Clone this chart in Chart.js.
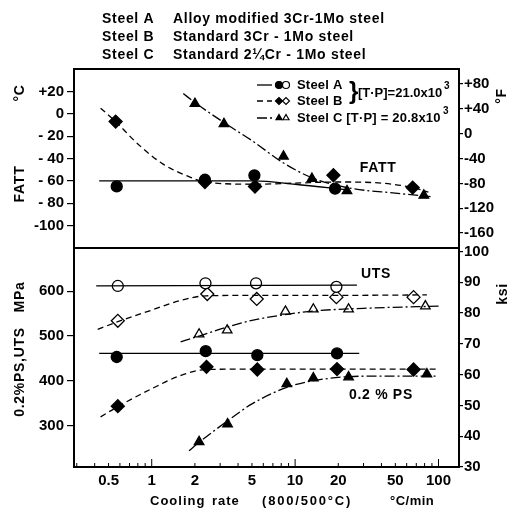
<!DOCTYPE html>
<html><head><meta charset="utf-8">
<script src="https://cdn.jsdelivr.net/npm/chart.js@4.4.0/dist/chart.umd.min.js"></script>
<style>html,body{margin:0;padding:0;background:#fff;}#wrap{width:524px;height:511px;position:relative}</style>
</head><body><div id="wrap"><canvas id="c" width="524" height="511"></canvas></div>
<script>
const FONTFAM = '"Liberation Sans", Arial, sans-serif';

// ---- axes ----
const xTickValues = [0.5, 1, 2, 5, 10, 20, 50, 100];
const xMinorTicks = [0.3,0.4,0.5,0.6,0.7,0.8,0.9,1,2,3,4,5,6,7,8,9,10,20,30,40,50,60,70,80,90,100];
const xMajorTicks = [1, 10, 100];
const cTickValues = [20, 0, -20, -40, -60, -80, -100];
const cTickLabels = ['+20', '0', '- 20', '- 40', '- 60', '- 80', '-100'];
const fTickValues = [80, 40, 0, -40, -80, -120, -160];
const fTickLabels = ['+80', '+40', '0', '-40', '-80', '-120', '-160'];
const mpaTickValues = [600, 500, 400, 300];
const ksiTickValues = [100, 90, 80, 70, 60, 50, 40, 30];

// ---- FATT (°C) markers ----
const fattA_x = [0.57, 2.35, 5.2, 19];
const fattA_y = [-65, -59, -55, -67];
const fattB_x = [0.56, 2.35, 5.25, 18.5, 66];
const fattB_y = [-7, -61, -65, -55, -66];
const fattC_x = [2.0, 3.19, 8.3, 13.1, 23, 79];
const fattC_y = [9, -9, -38, -58, -69, -73];
// ---- FATT fitted curves ----
const fattA_cx = [0.43, 2.35, 5.2, 10, 23];
const fattA_cy = [-60, -60, -60, -63, -68];
const fattB_cx = [0.44, 0.56, 0.8, 1.2, 1.8, 2.35, 5.2, 10, 20, 40, 66, 85];
const fattB_cy = [5, -7, -27, -45, -56, -61, -63, -62, -61, -62, -66, -70];
const fattC_cx = [1.66, 2.0, 3.2, 5, 8.3, 13, 23, 50, 88];
const fattC_cy = [18, 10, -8, -24, -44, -57, -66, -71, -74];

// ---- UTS (MPa) markers ----
const utsA_x = [0.58, 2.37, 5.34, 19.4];
const utsA_y = [612, 618, 618, 610];
const utsB_x = [0.58, 2.44, 5.4, 19.4, 67];
const utsB_y = [534, 594, 583, 587, 587];
const utsC_x = [2.14, 3.36, 8.56, 13.4, 23.6, 81];
const utsC_y = [504, 513, 555, 560, 560, 567];
// ---- UTS curves ----
const utsA_cx = [0.41, 27];
const utsA_cy = [612, 614];
const utsB_cx = [0.42, 0.58, 1, 1.6, 2.4, 5, 20, 83];
const utsB_cy = [515, 532, 558, 580, 590, 591, 591, 592];
const utsC_cx = [1.59, 2.14, 3.36, 5, 8.56, 13.4, 30, 103];
const utsC_cy = [487, 500, 520, 535, 548, 556, 562, 567];

// ---- 0.2% PS (MPa) markers ----
const psA_x = [0.57, 2.38, 5.45, 19.6];
const psA_y = [453, 466, 457, 461];
const psB_x = [0.58, 2.41, 5.45, 19.6, 67];
const psB_y = [343, 431, 425, 426, 425];
const psC_x = [2.14, 3.38, 8.75, 13.4, 23.6, 83];
const psC_y = [263, 303, 393, 406, 408, 415];
// ---- PS curves ----
const psA_cx = [0.43, 28];
const psA_cy = [461, 461];
const psB_cx = [0.44, 0.58, 1, 1.6, 2.4, 5, 20, 98];
const psB_cy = [319, 342, 382, 412, 425, 426, 426, 426];
const psC_cx = [1.82, 2.14, 3.38, 5, 8.75, 13.4, 30, 98];
const psC_cy = [243, 262, 310, 348, 385, 400, 410, 410];

const pts = (xs, ys) => xs.map((x, i) => ({x: x, y: ys[i]}));
const cToF = c => c * 9 / 5 + 32;
const MPA_PER_KSI = 6.894757;

const C_MIN = -120, C_MAX = 40;
const MPA_MIN = 206.8, MPA_MAX = 697;

const DASH_A = [], DASH_B = [6, 4], DASH_C = [10, 3, 2, 3];

function curve(xs, ys, axis, dash) {
  return {type: 'line', data: pts(xs, ys), yAxisID: axis, borderColor: '#000', borderWidth: 1.3,
    borderDash: dash, pointRadius: 0, fill: false, cubicInterpolationMode: 'monotone', showLine: true};
}
function marks(xs, ys, axis, style, filled, r) {
  return {type: 'scatter', data: pts(xs, ys), yAxisID: axis, pointStyle: style, pointRadius: r,
    pointBackgroundColor: filled ? '#000' : '#fff', pointBorderColor: '#000', pointBorderWidth: 1.3, showLine: false};
}

const datasets = [
  curve(fattA_cx, fattA_cy, 'yT', DASH_A), curve(fattB_cx, fattB_cy, 'yT', DASH_B), curve(fattC_cx, fattC_cy, 'yT', DASH_C),
  curve(utsA_cx, utsA_cy, 'yB', DASH_A), curve(utsB_cx, utsB_cy, 'yB', DASH_B), curve(utsC_cx, utsC_cy, 'yB', DASH_C),
  curve(psA_cx, psA_cy, 'yB', DASH_A), curve(psB_cx, psB_cy, 'yB', DASH_B), curve(psC_cx, psC_cy, 'yB', DASH_C),
  marks(fattA_x, fattA_y, 'yT', 'circle', true, 5.5), marks(fattB_x, fattB_y, 'yT', 'rectRot', true, 6.5), marks(fattC_x, fattC_y, 'yT', 'triangle', true, 5.5),
  marks(utsA_x, utsA_y, 'yB', 'circle', false, 5.5), marks(utsB_x, utsB_y, 'yB', 'rectRot', false, 6.5), marks(utsC_x, utsC_y, 'yB', 'triangle', false, 5.5),
  marks(psA_x, psA_y, 'yB', 'circle', true, 5.5), marks(psB_x, psB_y, 'yB', 'rectRot', true, 6.5), marks(psC_x, psC_y, 'yB', 'triangle', true, 5.5)
];

const tickFont = {family: FONTFAM, size: 15, weight: 'bold'};
function setTicks(vals) { return s => { s.ticks = vals.map(v => ({value: v})); }; }
const yGrid = {display: true, drawOnChartArea: false, drawTicks: true, tickLength: 7, color: '#000', lineWidth: 1.2};
const yGridR = {display: true, drawOnChartArea: false, drawTicks: true, tickLength: 4, color: '#000', lineWidth: 1.2};

const overlay = {
  id: 'overlay',
  afterDatasetsDraw(chart) {
    const {ctx, chartArea: a, scales} = chart;
    ctx.save();
    ctx.strokeStyle = '#000';
    ctx.lineWidth = 2;
    ctx.strokeRect(a.left, a.top, a.right - a.left, a.bottom - a.top);
    const yDiv = scales.yB.top;
    ctx.beginPath(); ctx.moveTo(a.left, yDiv); ctx.lineTo(a.right, yDiv); ctx.stroke();
    // inward minor ticks on x axis
    ctx.lineWidth = 1;
    xMinorTicks.forEach(v => {
      const px = scales.x.getPixelForValue(v);
      const len = xMajorTicks.includes(v) ? 8 : 4;
      ctx.beginPath(); ctx.moveTo(px, a.bottom); ctx.lineTo(px, a.bottom - len); ctx.stroke();
    });
    ctx.restore();
  },
  afterDraw(chart) {
    const {ctx, chartArea: a, scales} = chart;
    ctx.save();
    ctx.fillStyle = '#000';
    ctx.strokeStyle = '#000';
    const f = (sz) => 'bold ' + sz + 'px ' + FONTFAM;
    const ls = (v) => { if ('letterSpacing' in ctx) ctx.letterSpacing = v + 'px'; };
    // title block
    ctx.font = f(14);
    ls(0.7);
    ctx.textBaseline = 'middle';
    ctx.textAlign = 'left';
    const titleRows = [['Steel A', 'Alloy modified 3Cr-1Mo steel'], ['Steel B', 'Standard 3Cr - 1Mo steel'], ['Steel C', 'Standard 2\u00BCCr - 1Mo steel']];
    titleRows.forEach((r, i) => {
      const y = 19 + i * 18;
      ctx.fillText(r[0], 102, y);
      ctx.fillText(r[1], 173, y);
    });
    // annotations
    const notes = [['FATT', 38, -48.5, 'yT'], ['UTS', 36.7, 639, 'yB'], ['0.2 % PS', 39.7, 368, 'yB']];
    ctx.textAlign = 'center';
    notes.forEach(n => ctx.fillText(n[0], scales.x.getPixelForValue(n[1]), scales[n[3]].getPixelForValue(n[2])));
    // x title
    ctx.textAlign = 'left';
    ctx.font = f(13);
    ls(1);
    ctx.fillText('Cooling', 150, 501);
    ctx.fillText('rate', 212, 501);
    ls(1.8);
    ctx.fillText('(800/500\u00B0C)', 262, 501);
    ls(0.5);
    ctx.fillText('\u00B0C/min', 390, 501);
    // rotated axis titles
    ctx.font = f(14);
    ls(0.7);
    const rot = (txt, x, y) => { ctx.save(); ctx.translate(x, y); ctx.rotate(-Math.PI / 2); ctx.textAlign = 'center'; ctx.fillText(txt, 0, 0); ctx.restore(); };
    rot('\u00B0C', 20, 93);
    rot('FATT', 20, 184);
    rot('MPa', 20, 297);
    rot('0.2%PS,UTS', 20, 372);
    rot('\u00B0F', 502, 96);
    rot('ksi', 503, 294);
    // legend
    const rows = [
      {y: 85, dash: DASH_A, style: 'circle', label: 'Steel A'},
      {y: 101, dash: DASH_B, style: 'rectRot', label: 'Steel B'},
      {y: 118, dash: DASH_C, style: 'triangle', label: 'Steel C [T\u00B7P] = 20.8x10'}
    ];
    rows.forEach(r => {
      ctx.save();
      ctx.lineWidth = 1.3; ctx.setLineDash(r.dash);
      ctx.beginPath(); ctx.moveTo(257, r.y); ctx.lineTo(272, r.y); ctx.stroke();
      ctx.restore();
      ctx.lineWidth = 1.2;
      ctx.fillStyle = '#000';
      Chart.helpers.drawPoint(ctx, {pointStyle: r.style, radius: 3.5, borderWidth: 1.2}, 279, r.y);
      ctx.fill();
      ctx.fillStyle = '#fff';
      Chart.helpers.drawPoint(ctx, {pointStyle: r.style, radius: 3.5, borderWidth: 1.2}, 286, r.y);
      ctx.fillStyle = '#000';
      ctx.textAlign = 'left';
      ctx.font = f(13);
      ls(0.2);
      ctx.fillText(r.label, 297, r.y);
    });
    ctx.font = f(24);
    ls(0);
    ctx.fillText('}', 349, 92);
    ctx.font = f(13);
    ls(0);
    ctx.fillText('[T\u00B7P]=21.0x10', 358, 93);
    ctx.font = f(10);
    ctx.fillText('3', 444, 86);
    ctx.fillText('3', 443, 111);
    ctx.restore();
  }
};

new Chart(document.getElementById('c'), {
  type: 'scatter',
  data: {datasets: datasets},
  options: {
    responsive: false, animation: false, devicePixelRatio: 1,
    layout: {padding: {top: 69, left: 0, right: 0, bottom: 0}},
    plugins: {legend: {display: false}, tooltip: {enabled: false}, title: {display: false}},
    scales: {
      x: {type: 'logarithmic', position: 'bottom', min: 0.287, max: 139,
        grid: {display: false, drawTicks: false}, border: {display: false},
        afterBuildTicks: setTicks(xTickValues),
        ticks: {font: tickFont, color: '#000', padding: 5, autoSkip: false, maxRotation: 0, callback: v => String(v)},
        afterFit: s => { s.height = 44; }},
      yB: {type: 'linear', position: 'left', stack: 'L', stackWeight: 219, min: MPA_MIN, max: MPA_MAX,
        grid: yGrid, border: {display: false},
        afterBuildTicks: setTicks(mpaTickValues),
        ticks: {font: tickFont, color: '#000', padding: 3, autoSkip: false, callback: v => String(v)},
        afterFit: s => { s.width = 74; }},
      yT: {type: 'linear', position: 'left', stack: 'L', stackWeight: 179, min: C_MIN, max: C_MAX,
        grid: yGrid, border: {display: false},
        afterBuildTicks: setTicks(cTickValues),
        ticks: {font: tickFont, color: '#000', padding: 3, autoSkip: false, callback: v => cTickLabels[cTickValues.indexOf(v)]},
        afterFit: s => { s.width = 74; }},
      yTR: {type: 'linear', position: 'right', stack: 'R', stackWeight: 179, min: cToF(C_MIN), max: cToF(C_MAX),
        grid: yGridR, border: {display: false},
        afterBuildTicks: setTicks(fTickValues),
        ticks: {font: tickFont, color: '#000', padding: 1, autoSkip: false, callback: v => fTickLabels[fTickValues.indexOf(v)]},
        afterFit: s => { s.width = 65; }},
      yBR: {type: 'linear', position: 'right', stack: 'R', stackWeight: 219, min: MPA_MIN / MPA_PER_KSI, max: MPA_MAX / MPA_PER_KSI,
        grid: yGridR, border: {display: false},
        afterBuildTicks: setTicks(ksiTickValues),
        ticks: {font: tickFont, color: '#000', padding: 1, autoSkip: false, callback: v => String(v)},
        afterFit: s => { s.width = 65; }}
    }
  },
  plugins: [overlay]
});
</script></body></html>
